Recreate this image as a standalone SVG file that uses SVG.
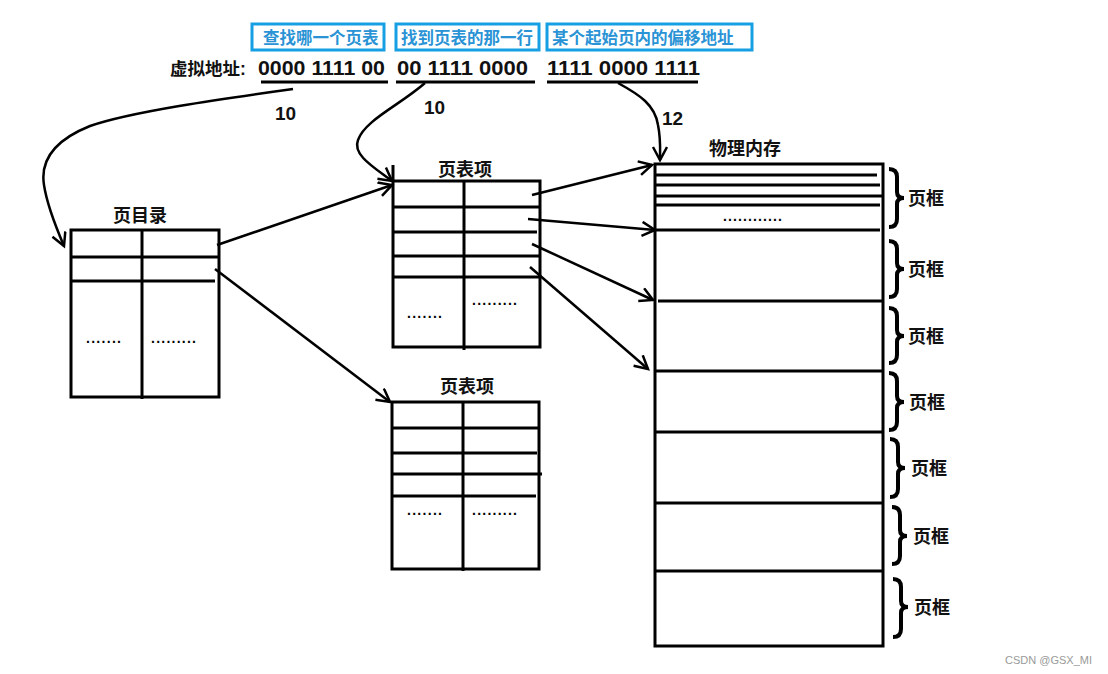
<svg xmlns="http://www.w3.org/2000/svg" width="1108" height="674" viewBox="0 0 1108 674">
<defs>
<style>
.ln{stroke:#000;stroke-width:3;fill:none}
.cn{stroke:#000;stroke-width:2.5;fill:none}
.t{font-family:"Liberation Sans","Noto Sans CJK SC",sans-serif;font-weight:bold;fill:#111}
.cy{font-family:"Liberation Sans","Noto Sans CJK SC",sans-serif;font-weight:bold;fill:#2a93d5;font-size:16.5px}
.bx{fill:#fff;stroke:#16a0e3;stroke-width:3}
.dot{font-family:"Liberation Sans",sans-serif;font-weight:bold;font-size:14px;fill:#000}
.br{stroke:#000;stroke-width:4;fill:none}
</style>
<marker id="ah" markerUnits="userSpaceOnUse" markerWidth="20" markerHeight="20" refX="14" refY="8" orient="auto">
<path d="M1,1 L14,8 L1,15" stroke="#000" stroke-width="2.5" fill="none"/>
</marker>
</defs>
<rect width="1108" height="674" fill="#fff"/>

<g id="labels">
<rect class="bx" x="252" y="24" width="132" height="26"/>
<text class="cy" x="263" y="44">查找哪一个页表</text>
<rect class="bx" x="396" y="24" width="143" height="26"/>
<text class="cy" x="401" y="44">找到页表的那一行</text>
<rect class="bx" x="547" y="24" width="205" height="26"/>
<text class="cy" x="552" y="44">某个起始页内的偏移地址</text>
</g>

<g id="address">
<text class="t" x="170" y="75" font-size="17.5">虚拟地址:</text>
<text class="t" x="258" y="75" font-size="20" textLength="127" lengthAdjust="spacingAndGlyphs">0000 1111 00</text>
<text class="t" x="397" y="75" font-size="20" textLength="131" lengthAdjust="spacingAndGlyphs">00 1111 0000</text>
<text class="t" x="547" y="75" font-size="20" textLength="153" lengthAdjust="spacingAndGlyphs">1111 0000 1111</text>
<line class="ln" x1="261" y1="82" x2="388" y2="82"/>
<line class="ln" x1="396" y1="82" x2="535" y2="82"/>
<line class="ln" x1="547" y1="82" x2="698" y2="82"/>
<text class="t" x="275" y="120" font-size="19">10</text>
<text class="t" x="424" y="114" font-size="19">10</text>
<text class="t" x="662" y="125" font-size="19">12</text>
</g>

<g id="page-directory">
<text class="t" x="140" y="222" font-size="18" text-anchor="middle">页目录</text>
<rect class="ln" x="71" y="230" width="148" height="167"/>
<line class="ln" x1="142" y1="230" x2="142" y2="399"/>
<line class="ln" x1="71" y1="257" x2="219" y2="257"/>
<line class="ln" x1="71" y1="281" x2="215" y2="281"/>
<text class="dot" x="86" y="343" textLength="35" lengthAdjust="spacing">.......</text>
<text class="dot" x="151" y="343" textLength="45" lengthAdjust="spacing">.........</text>
</g>

<g id="page-table-1">
<text class="t" x="465" y="176" font-size="18" text-anchor="middle">页表项</text>
<rect class="ln" x="393" y="181" width="147" height="166"/>
<line class="ln" x1="393" y1="165" x2="393" y2="181"/>
<line class="ln" x1="464" y1="181" x2="464" y2="350"/>
<line class="ln" x1="393" y1="207" x2="540" y2="207"/>
<line class="ln" x1="393" y1="232" x2="537" y2="232"/>
<line class="ln" x1="393" y1="256" x2="540" y2="256"/>
<line class="ln" x1="393" y1="277" x2="540" y2="277"/>
<text class="dot" x="407" y="318" textLength="35" lengthAdjust="spacing">.......</text>
<text class="dot" x="472" y="305" textLength="45" lengthAdjust="spacing">.........</text>
</g>

<g id="page-table-2">
<text class="t" x="467" y="393" font-size="18" text-anchor="middle">页表项</text>
<rect class="ln" x="392" y="402" width="147" height="167"/>
<line class="ln" x1="463" y1="402" x2="463" y2="571"/>
<line class="ln" x1="392" y1="428" x2="539" y2="428"/>
<line class="ln" x1="392" y1="453" x2="537" y2="453"/>
<line class="ln" x1="392" y1="474" x2="542" y2="474"/>
<line class="ln" x1="392" y1="496" x2="536" y2="496"/>
<text class="dot" x="407" y="515" textLength="35" lengthAdjust="spacing">.......</text>
<text class="dot" x="472" y="515" textLength="45" lengthAdjust="spacing">.........</text>
</g>

<g id="physical-memory">
<text class="t" x="745" y="155" font-size="18" text-anchor="middle">物理内存</text>
<rect class="ln" x="655" y="164" width="228" height="482"/>
<line class="ln" x1="655" y1="175" x2="877" y2="175"/>
<line class="ln" x1="655" y1="185" x2="880" y2="185"/>
<line class="ln" x1="655" y1="196" x2="883" y2="196"/>
<line class="ln" x1="655" y1="205" x2="880" y2="205"/>
<text class="dot" x="723" y="221" textLength="59" lengthAdjust="spacing">............</text>
<line class="ln" x1="655" y1="230" x2="880" y2="230"/>
<line class="ln" x1="658" y1="301" x2="883" y2="301"/>
<line class="ln" x1="655" y1="371" x2="883" y2="371"/>
<line class="ln" x1="655" y1="432" x2="883" y2="432"/>
<line class="ln" x1="655" y1="503" x2="883" y2="503"/>
<line class="ln" x1="655" y1="571" x2="883" y2="571"/>
</g>

<g id="page-frames">
<path class="br" d="M889,169 Q897,169 897,177 L897,192 Q897,198 904,198 Q897,198 897,204 L897,219 Q897,227 889,227"/>
<text class="t" x="908" y="205" font-size="18">页框</text>
<path class="br" d="M889,241 Q897,241 897,249 L897,263 Q897,269 904,269 Q897,269 897,275 L897,289 Q897,297 889,297"/>
<text class="t" x="908" y="276" font-size="18">页框</text>
<path class="br" d="M889,308 Q897,308 897,316 L897,330 Q897,336 904,336 Q897,336 897,342 L897,355 Q897,363 889,363"/>
<text class="t" x="908" y="343" font-size="18">页框</text>
<path class="br" d="M889,373 Q897,373 897,381 L897,396 Q897,402 904,402 Q897,402 897,408 L897,422 Q897,430 889,430"/>
<text class="t" x="909" y="409" font-size="18">页框</text>
<path class="br" d="M890,439 Q898,439 898,447 L898,462 Q898,468 905,468 Q898,468 898,474 L898,489 Q898,497 890,497"/>
<text class="t" x="911" y="475" font-size="18">页框</text>
<path class="br" d="M892,507 Q900,507 900,515 L900,530 Q900,536 907,536 Q900,536 900,542 L900,556 Q900,564 892,564"/>
<text class="t" x="913" y="543" font-size="18">页框</text>
<path class="br" d="M893,579 Q901,579 901,587 L901,601 Q901,607 908,607 Q901,607 901,613 L901,629 Q901,637 893,637"/>
<text class="t" x="914" y="614" font-size="18">页框</text>
</g>

<g id="connectors">
<path class="cn" marker-end="url(#ah)" d="M293,89 C220,99 130,112 90,126 C55,140 40,160 44,185 C47,205 55,225 64,246"/>
<path class="cn" marker-end="url(#ah)" d="M425,83 C400,105 365,120 358,140 C352,155 375,168 392,181"/>
<path class="cn" marker-end="url(#ah)" d="M618,83 C640,95 655,105 658,125 C661,140 660,150 660,160"/>
<line class="cn" marker-end="url(#ah)" x1="217" y1="245" x2="392" y2="185"/>
<line class="cn" marker-end="url(#ah)" x1="215" y1="269" x2="390" y2="402"/>
<line class="cn" marker-end="url(#ah)" x1="532" y1="195" x2="652" y2="165"/>
<line class="cn" marker-end="url(#ah)" x1="528" y1="219" x2="655" y2="230"/>
<line class="cn" marker-end="url(#ah)" x1="532" y1="244" x2="653" y2="300"/>
<line class="cn" marker-end="url(#ah)" x1="530" y1="267" x2="648" y2="369"/>
</g>

<text x="1092" y="664" text-anchor="end" font-family="Liberation Sans,sans-serif" font-size="11" fill="#999">CSDN @GSX_MI</text>
</svg>
